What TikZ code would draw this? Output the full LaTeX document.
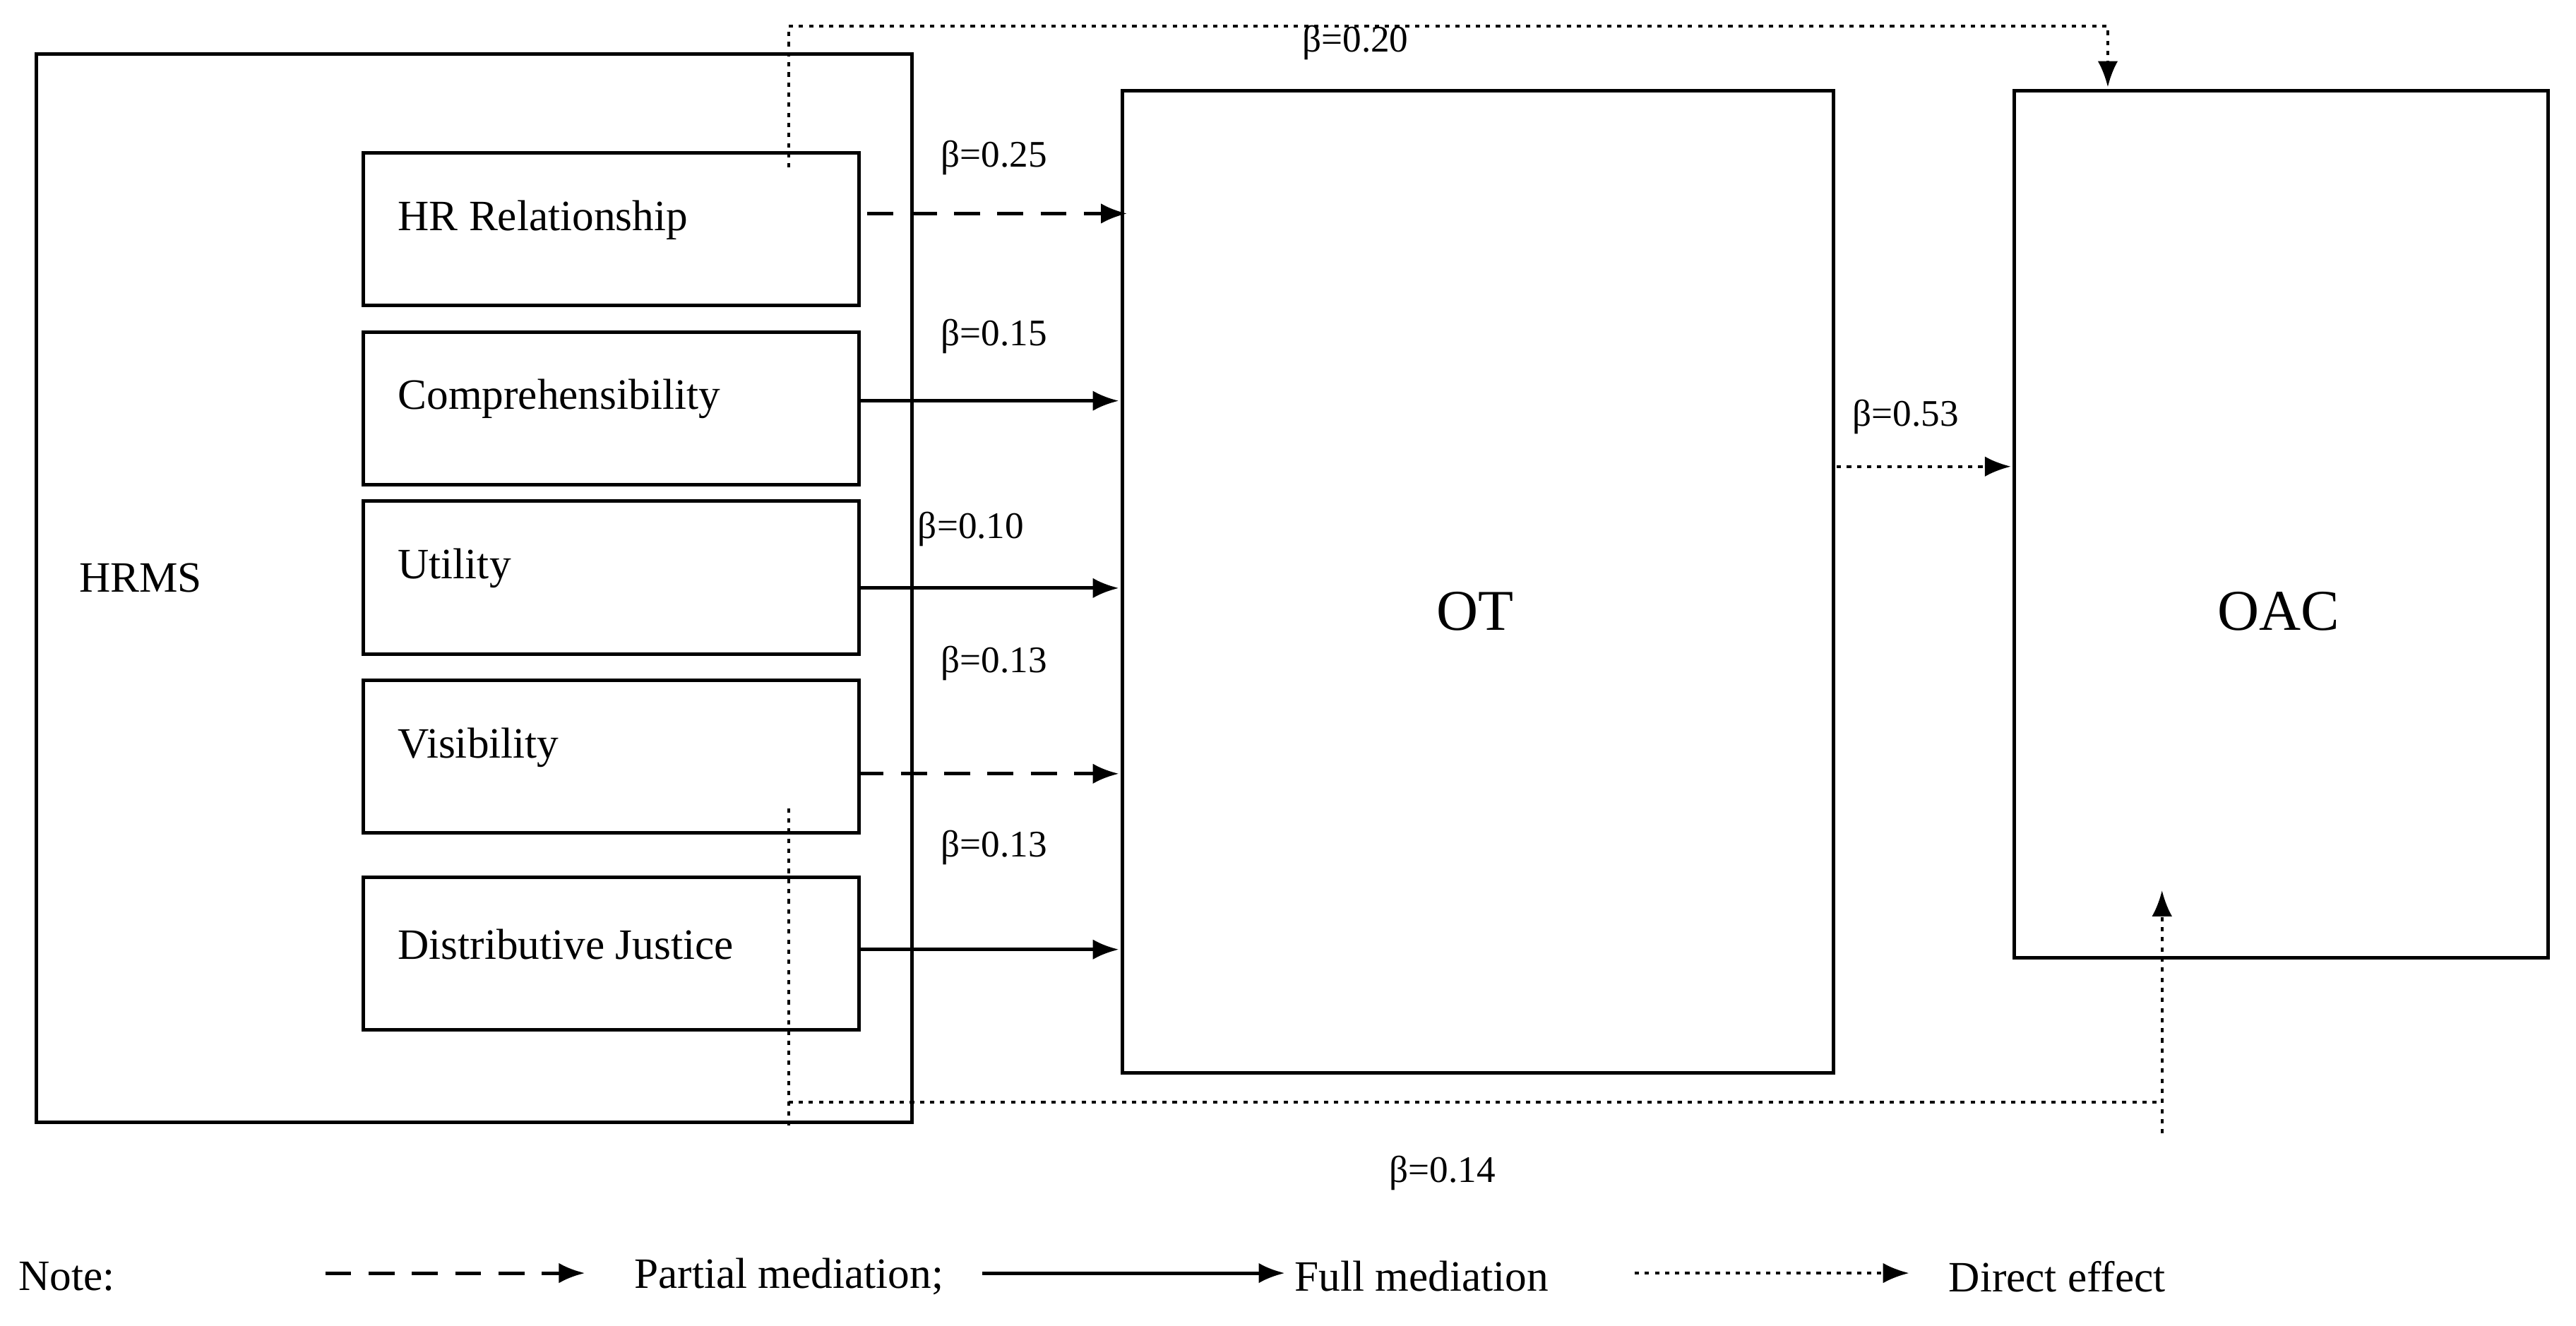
\documentclass[tikz,border=0pt]{standalone}
\usepackage{fontspec}
\setmainfont{Liberation Serif}
\usetikzlibrary{arrows.meta}
\begin{document}
\begin{tikzpicture}[x=0.02cm,y=-0.02cm,
  box/.style={draw,line width=1.2pt},
  lab/.style={font=\fontsize{15}{17}\selectfont,anchor=west},
  beta/.style={font=\fontsize{13}{15}\selectfont},
  arr/.style={line width=1.2pt,-{Latex[length=9pt,width=7pt]}},
  dsh/.style={arr,dash pattern=on 9pt off 6pt},
  dot/.style={line width=1pt,dash pattern=on 1.5pt off 2pt},
  dota/.style={dot,-{Latex[length=9pt,width=7pt]}}]
\useasboundingbox (0,0) rectangle (1568,807);
\node[box,minimum width=533*0.02cm,minimum height=650*0.02cm,anchor=north west] (hrms) at (21,32) {};
\node[lab] (hrmsl) at (42,352) {HRMS};
\foreach \n/\t/\y in {hr/HR Relationship/92,co/Comprehensibility/201,ut/Utility/304,vi/Visibility/413,dj/Distributive Justice/533}{
  \node[box,minimum width=302*0.02cm,minimum height=93*0.02cm,anchor=north west] (\n) at (220,\y) {};
  \node[lab] at (236,\y+42) {\t};
}
\node[box,minimum width=433*0.02cm,minimum height=598*0.02cm,anchor=north west,font=\fontsize{20}{22}\selectfont] (ot) at (682,54) {};
\node[font=\fontsize{20}{22}\selectfont] at (898,372) {OT};
\node[box,minimum width=325*0.02cm,minimum height=528*0.02cm,anchor=north west] (oac) at (1225,54) {};
\node[font=\fontsize{20}{22}\selectfont] at (1387,372) {OAC};
\coordinate (a1) at (528,130); \coordinate (b1) at (686,130);
\draw[dsh] (a1) -- (b1); \node[beta] at (605,96) {β=0.25};
\coordinate (a2) at (522,244); \coordinate (b2) at (681,244);
\draw[arr] (a2) -- (b2); \node[beta] at (605,205) {β=0.15};
\coordinate (a3) at (522,358); \coordinate (b3) at (681,358);
\draw[arr] (a3) -- (b3); \node[beta] at (591,322) {β=0.10};
\coordinate (a4) at (522,471); \coordinate (b4) at (681,471);
\draw[dsh] (a4) -- (b4); \node[beta] at (605,404) {β=0.13};
\coordinate (a5) at (522,578); \coordinate (b5) at (681,578);
\draw[arr] (a5) -- (b5); \node[beta] at (605,516) {β=0.13};
\coordinate (a6) at (1118,284); \coordinate (b6) at (1224,284);
\draw[dota] (a6) -- (b6); \node[beta] at (1160,254) {β=0.53};
\coordinate (t0) at (480,102); \coordinate (t1) at (1283,53);
\draw[dota] (t0) -- (480,16) -- (1283,16) -- (t1);
\node[beta] at (825,26) {β=0.20};
\coordinate (u0) at (480,492); \coordinate (u1) at (480,685);
\coordinate (u2) at (1316,690); \coordinate (u3) at (1316,542);
\draw[dot] (u0) -- (u1);
\draw[dot] (480,671) -- (1316,671);
\draw[dota] (u2) -- (u3);
\node[beta] at (878,714) {β=0.14};
\node[lab] at (5,777) {Note:};
\coordinate (l1) at (198,775); \coordinate (l2) at (356,775);
\draw[dsh] (l1) -- (l2);
\node[lab] at (380,777) {Partial mediation;};
\coordinate (l3) at (598,775); \coordinate (l4) at (782,775);
\draw[arr] (l3) -- (l4);
\node[lab] at (782,777) {Full mediation};
\coordinate (l5) at (995,775); \coordinate (l6) at (1162,775);
\draw[dota] (l5) -- (l6);
\node[lab] at (1180,777) {Direct effect};
\end{tikzpicture}
\end{document}
